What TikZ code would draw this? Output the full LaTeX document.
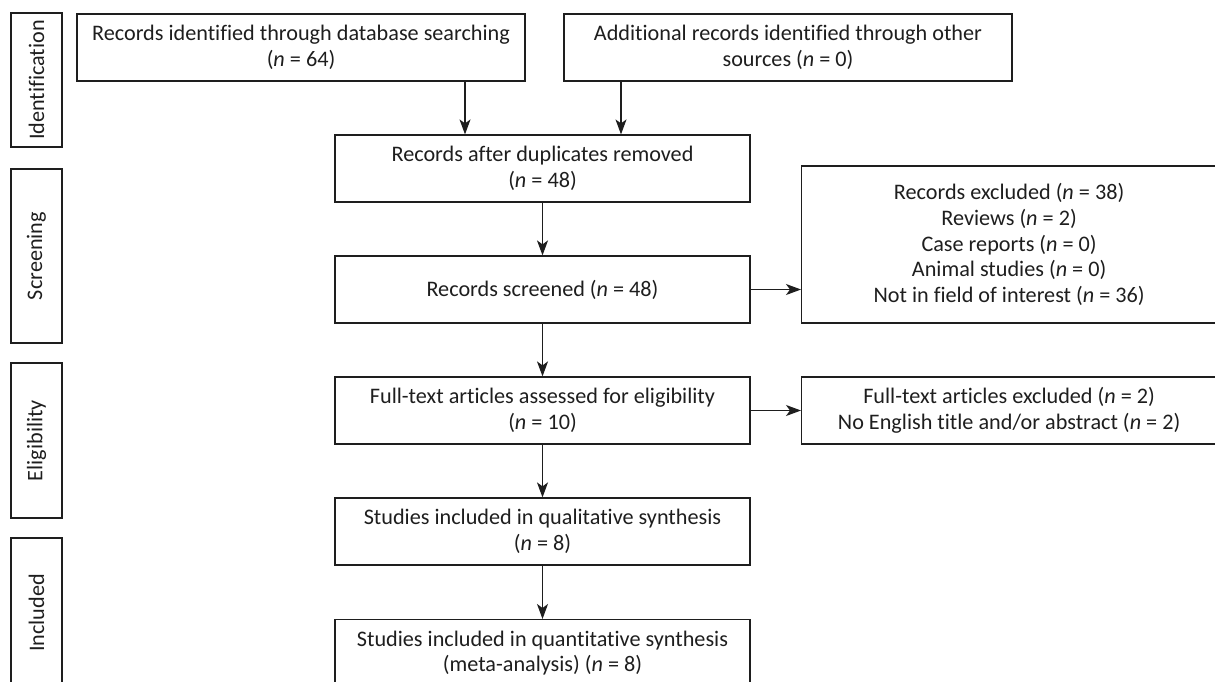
\documentclass[tikz,border=0pt]{standalone}
\usepackage{fontspec}
\setmainfont{Carlito}[Ligatures=NoCommon]
\usetikzlibrary{arrows.meta,calc}
\definecolor{ink}{HTML}{1E1E1E}
\begin{document}
\begin{tikzpicture}[x=1pt,y=-1pt,
  every node/.style={font=\fontsize{22.2}{25.7}\selectfont, text=ink},
  box/.style={draw=ink, line width=1.2pt, inner sep=0pt, align=center},
  side/.style={draw=ink, line width=1.2pt, inner sep=0pt, rotate=90},
  arr/.style={draw=ink, line width=1.2pt, -{Stealth[length=15pt,width=11pt,inset=4pt]}}]
\useasboundingbox (0,0) rectangle (1215,681);
% phase labels
\node[side, minimum width=134pt, minimum height=51pt] (sid) at (36.5,80) {Identification};
\node[side, minimum width=174pt, minimum height=51pt] (ssc) at (36.5,256) {Screening};
\node[side, minimum width=155pt, minimum height=51pt] (sel) at (36.5,440.5) {Eligibility};
\node[side, minimum width=150pt, minimum height=51pt] (sin) at (36.5,613) {Included};
% boxes
\node[box, minimum width=448pt, minimum height=67pt] (b1) at (301,47.5)
  {Records identified through database searching\\(\textit{n} = 64)};
\node[box, minimum width=448pt, minimum height=67pt] (b2) at (788,47.5)
  {Additional records identified through other\\sources (\textit{n} = 0)};
\node[box, minimum width=415pt, minimum height=67pt] (dup) at (542.5,168.5)
  {Records after duplicates removed\\(\textit{n} = 48)};
\node[box, minimum width=415pt, minimum height=67pt] (scr) at (542.5,289.5)
  {Records screened (\textit{n} = 48)};
\node[box, minimum width=415pt, minimum height=157pt, anchor=west] (exc) at (801,244.5)
  {Records excluded (\textit{n} = 38)\\Reviews (\textit{n} = 2)\\Case reports (\textit{n} = 0)\\Animal studies (\textit{n} = 0)\\Not in field of interest (\textit{n} = 36)};
\node[box, minimum width=415pt, minimum height=67pt] (ful) at (542.5,410.5)
  {Full-text articles assessed for eligibility\\(\textit{n} = 10)};
\node[box, minimum width=415pt, minimum height=67pt, anchor=west] (fex) at (801,410.5)
  {Full-text articles excluded (\textit{n} = 2)\\No English title and/or abstract (\textit{n} = 2)};
\node[box, minimum width=415pt, minimum height=67pt] (qua) at (542.5,531.5)
  {Studies included in qualitative synthesis\\(\textit{n} = 8)};
\node[box, minimum width=415pt, minimum height=67pt, anchor=north] (qnt) at (542.5,619)
  {Studies included in quantitative synthesis\\(meta-analysis) (\textit{n} = 8)};
% connectors
\draw[arr] ([xshift=164pt]b1.south) -- ([xshift=164pt]b1.south |- dup.north);
\draw[arr] ([xshift=-167pt]b2.south) -- ([xshift=-167pt]b2.south |- dup.north);
\draw[arr] (dup) -- (scr);
\draw[arr] (scr) -- (ful);
\draw[arr] (ful) -- (qua);
\draw[arr] (qua) -- (qnt);
\draw[arr] (scr.east) -- (scr.east -| exc.west);
\draw[arr] (ful.east) -- (fex.west);
\end{tikzpicture}
\end{document}
